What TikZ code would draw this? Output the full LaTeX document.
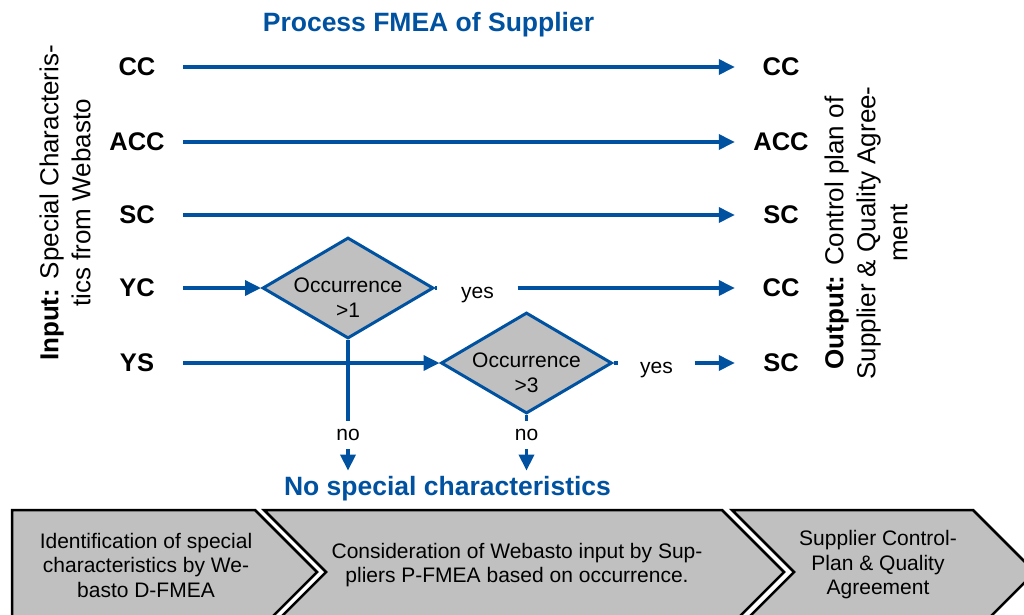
\documentclass[tikz,border=0pt]{standalone}
\usepackage{fontspec}
\setmainfont{Liberation Sans}
\usetikzlibrary{arrows.meta,shapes.geometric}
\definecolor{wblue}{RGB}{0,82,160}
\definecolor{cgray}{RGB}{192,192,192}
\begin{document}
\begin{tikzpicture}[x=1pt,y=-1pt,
 lab/.style={font=\fontsize{25.5}{30}\selectfont\bfseries, inner sep=0pt, minimum width=92pt, minimum height=20pt},
 arr/.style={draw=wblue, line width=3.5pt, -{Triangle[length=16pt,width=15pt]}},
 ln/.style={draw=wblue, line width=3.5pt},
 dia/.style={diamond, draw=wblue, fill=cgray, line width=3pt, minimum width=171pt, minimum height=101pt, inner sep=0pt},
 small/.style={font=\fontsize{21}{25}\selectfont},
 yesnode/.style={small, inner ysep=0pt, text height=20pt, text depth=0pt},
 side/.style={font=\fontsize{26}{32}\selectfont, align=center, rotate=90},
 chev/.style={fill=cgray, draw=black, line width=2.5pt, line join=miter},
 chevtext/.style={font=\fontsize{21}{24.5}\selectfont, align=center},
]
\useasboundingbox (0,0) rectangle (1024,614);

% title
\node[font=\fontsize{26.5}{32}\selectfont\bfseries, text=wblue, anchor=base] (title) at (428.5,31) {Process FMEA of Supplier};

% side texts
\node[side] (input) at (65,203) {\textbf{Input:} Special Characteris-\\tics from Webasto};
\node[side] (output) at (866,233) {\textbf{Output:} Control plan of\\Supplier \& Quality Agree-\\ment};

% left labels
\node[lab] (lCC)  at (137,67)  {CC};
\node[lab] (lACC) at (137,142) {ACC};
\node[lab] (lSC)  at (137,215) {SC};
\node[lab] (lYC)  at (137,288) {YC};
\node[lab] (lYS)  at (137,363) {YS};

% right labels
\node[lab] (rCC)  at (781,67)  {CC};
\node[lab] (rACC) at (781,142) {ACC};
\node[lab] (rSC)  at (781,215) {SC};
\node[lab] (rCC2) at (781,288) {CC};
\node[lab] (rSC2) at (781,363) {SC};

% diamonds
\node[dia] (d1) at (348,288) {};
\node[small, align=center] (d1t) at (348,298) {Occurrence\\>1};
\node[dia] (d2) at (526.5,363) {};
\node[small, align=center] (d2t) at (526.5,373) {Occurrence\\>3};

% yes / no labels
\node[yesnode, inner xsep=23.5pt] (yes1) at (477.5,288) {yes};
\node[yesnode, inner xsep=21.5pt] (yes2) at (656.5,363) {yes};
\node[small, inner sep=0pt, minimum height=28pt] (no1) at (348,435) {no};
\node[small, inner sep=0pt, minimum height=28pt] (no2) at (526.5,435) {no};

\node[font=\fontsize{26.5}{32}\selectfont\bfseries, text=wblue, anchor=base, inner sep=5pt] (nsc) at (447.5,495) {No special characteristics};

% connectors
\draw[arr] (lCC) -- (rCC);
\draw[arr] (lACC) -- (rACC);
\draw[arr] (lSC) -- (rSC);
\draw[arr] (lYC) -- (d1.west);
\draw[ln] (d1.east) -- (yes1.west);
\draw[arr] (yes1.east) -- (rCC2.west);
\draw[ln] (d1.south) -- (no1.north);
\draw[arr] (lYS) -- (d2.west);
\draw[ln] (d2.east) -- (yes2.west);
\draw[arr] (yes2.east) -- (rSC2.west);
\draw[ln] (d2.south) -- (no2.north);
\draw[arr] (no1.south) -- (no1.south |- nsc.north);
\draw[arr] (no2.south) -- (no2.south |- nsc.north);

% chevrons
\begin{scope}
\clip (0,0) rectangle (1024,614);
\draw[chev] (12,510) -- (255,510) -- (317,572) -- (255,634) -- (12,634) -- cycle;
\draw[chev] (264,510) -- (722,510) -- (784,572) -- (722,634) -- (264,634) -- (326,572) -- cycle;
\draw[chev] (732,510) -- (973,510) -- (1035,572) -- (973,634) -- (732,634) -- (794,572) -- cycle;
\end{scope}
\node[chevtext] (c1) at (146,565) {Identification of special\\characteristics by We-\\basto D-FMEA};
\node[chevtext] (c2) at (517,565) {Consideration of Webasto input by Sup-\\pliers P-FMEA based on occurrence.};
\node[chevtext] (c3) at (878,565) {Supplier Control-\\Plan \& Quality\\Agreement};
\end{tikzpicture}
\end{document}
